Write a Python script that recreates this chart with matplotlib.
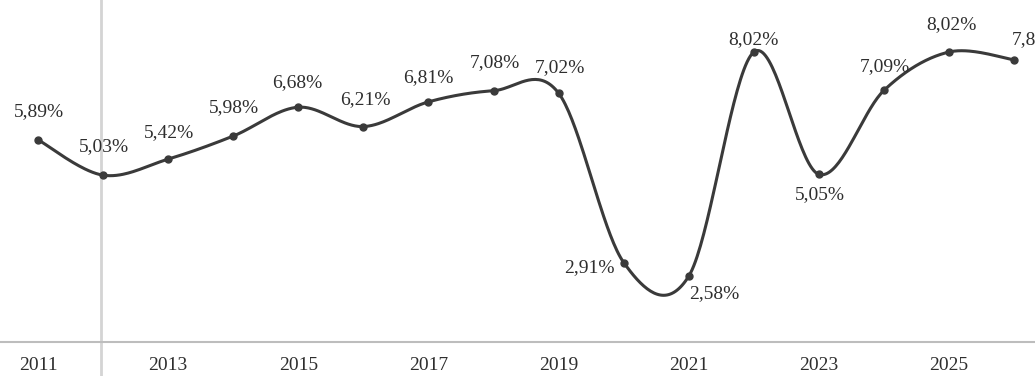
import numpy as np
import matplotlib
matplotlib.use("Agg")
import matplotlib.pyplot as plt

years = [2011, 2012, 2013, 2014, 2015, 2016, 2017, 2018, 2019, 2020, 2021, 2022, 2023, 2024, 2025, 2026]
values = [5.89, 5.03, 5.42, 5.98, 6.68, 6.21, 6.81, 7.08, 7.02, 2.91, 2.58, 8.02, 5.05, 7.09, 8.02, 7.83]
tick_years = [2011, 2013, 2015, 2017, 2019, 2021, 2023, 2025]

# label offsets in pixels (dx, dy)
label_offsets = [(1, 28), (1, 29), (1, 27), (1, 28), (-1, 25), (2, 27), (0, 24), (1, 28),
                 (1, 26), (-34, -5), (25, -17), (0, 12), (1, -20), (1, 24), (2, 27), (23, 20)]

plt.rcParams['font.family'] = ['Liberation Serif', 'DejaVu Serif']

def catmull_rom(x, y, n=40):
    x = np.asarray(x, float); y = np.asarray(y, float)
    px = np.concatenate([[x[0]], x, [x[-1]]])
    py = np.concatenate([[y[0]], y, [y[-1]]])
    xs, ys = [], []
    for i in range(1, len(px) - 2):
        p0 = np.array([px[i - 1], py[i - 1]]); p1 = np.array([px[i], py[i]])
        p2 = np.array([px[i + 1], py[i + 1]]); p3 = np.array([px[i + 2], py[i + 2]])
        c1 = p1 + (p2 - p0) / 6.0
        c2 = p2 - (p3 - p1) / 6.0
        t = np.linspace(0, 1, n)[:, None]
        pts = ((1 - t) ** 3) * p1 + 3 * ((1 - t) ** 2) * t * c1 + 3 * (1 - t) * t ** 2 * c2 + t ** 3 * p2
        xs.append(pts[:, 0]); ys.append(pts[:, 1])
    return np.concatenate(xs), np.concatenate(ys)

fig = plt.figure(figsize=(10.35, 3.76), dpi=100)
ax = fig.add_axes([0, 34 / 376, 1, 342 / 376])
ax.set_xlim(2010.416, 2026.32)
ax.set_ylim(0.981, 9.282)

ax.axvline(2011.97, color='#d4d4d4', lw=2, zorder=0, clip_on=False, ymin=-0.12, ymax=1)

sx, sy = catmull_rom(years, values)
ax.plot(sx, sy, color='#3a3a3a', lw=2.2, zorder=3)
ax.plot(years, values, 'o', color='#3a3a3a', ms=5, zorder=4)

for x, v, (dx, dy) in zip(years, values, label_offsets):
    ax.annotate(f"{v:.2f}%".replace('.', ','), (x, v), xytext=(dx, dy),
                textcoords='offset pixels', ha='center', va='center',
                fontsize=14, color='#2e2e2e', zorder=5, annotation_clip=False)

for s in ['top', 'right', 'left']:
    ax.spines[s].set_visible(False)
ax.spines['bottom'].set_color('#bdbdbd')
ax.spines['bottom'].set_linewidth(1.5)
ax.set_yticks([])
ax.set_xticks(tick_years)
ax.set_xticklabels([str(t) for t in tick_years], fontsize=14, color='#2e2e2e')
ax.tick_params(axis='x', length=0, pad=11)

fig.savefig('out.png', dpi=100)
